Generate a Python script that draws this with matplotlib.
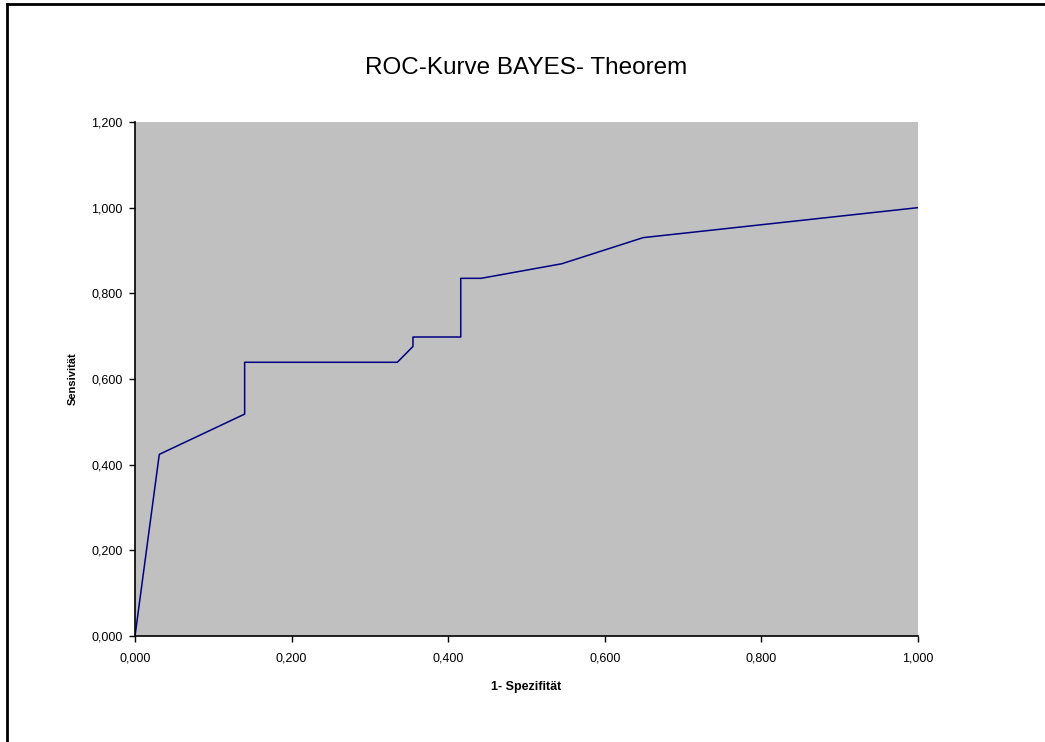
import matplotlib.pyplot as plt
from matplotlib.lines import Line2D

# Data
fpr = [0.000, 0.031, 0.140, 0.140, 0.335, 0.355, 0.355, 0.416, 0.416, 0.442, 0.545, 0.649, 1.000]
sens = [0.000, 0.424, 0.518, 0.639, 0.639, 0.676, 0.698, 0.698, 0.835, 0.835, 0.869, 0.930, 1.000]
x_ticks = [0.0, 0.2, 0.4, 0.6, 0.8, 1.0]
y_ticks = [0.0, 0.2, 0.4, 0.6, 0.8, 1.0, 1.2]

plt.rcParams['font.family'] = ['Liberation Sans', 'DejaVu Sans']

fig = plt.figure(figsize=(10.45, 7.42), dpi=100)
ax = fig.add_axes([0.1292, 0.1429, 0.7493, 0.6927])
ax.set_facecolor('#c0c0c0')
ax.plot(fpr, sens, color='#000080', linewidth=1.1)

ax.set_xlim(0, 1)
ax.set_ylim(0, 1.2)
ax.set_xticks(x_ticks)
ax.set_yticks(y_ticks)
ax.set_xticklabels([f'{v:.3f}'.replace('.', ',') for v in x_ticks])
ax.set_yticklabels([f'{v:.3f}'.replace('.', ',') for v in y_ticks])
ax.tick_params(labelsize=9, length=4, width=1, direction='out', colors='black')
ax.tick_params(axis='x', pad=8)
ax.tick_params(axis='y', pad=5)
ax.spines['top'].set_visible(False)
ax.spines['right'].set_visible(False)
ax.spines['left'].set_linewidth(1.2)
ax.spines['bottom'].set_linewidth(1.2)

ax.set_xlabel('1- Spezifität', fontsize=9, fontweight='bold', labelpad=12)
ax.set_ylabel('Sensivität', fontsize=8, fontweight='bold', labelpad=10)
fig.text(0.503, 0.908, 'ROC-Kurve BAYES- Theorem', ha='center', va='center', fontsize=17.5)

# Outer chart border (only top and left edges are visible in the crop)
fig.lines.append(Line2D([6.5 / 1045, 1.0], [1 - 4 / 742, 1 - 4 / 742], transform=fig.transFigure,
                        color='black', linewidth=2))
fig.lines.append(Line2D([6.5 / 1045, 6.5 / 1045], [0.0, 1 - 4 / 742], transform=fig.transFigure,
                        color='black', linewidth=2))

fig.savefig('out.png', dpi=100)
